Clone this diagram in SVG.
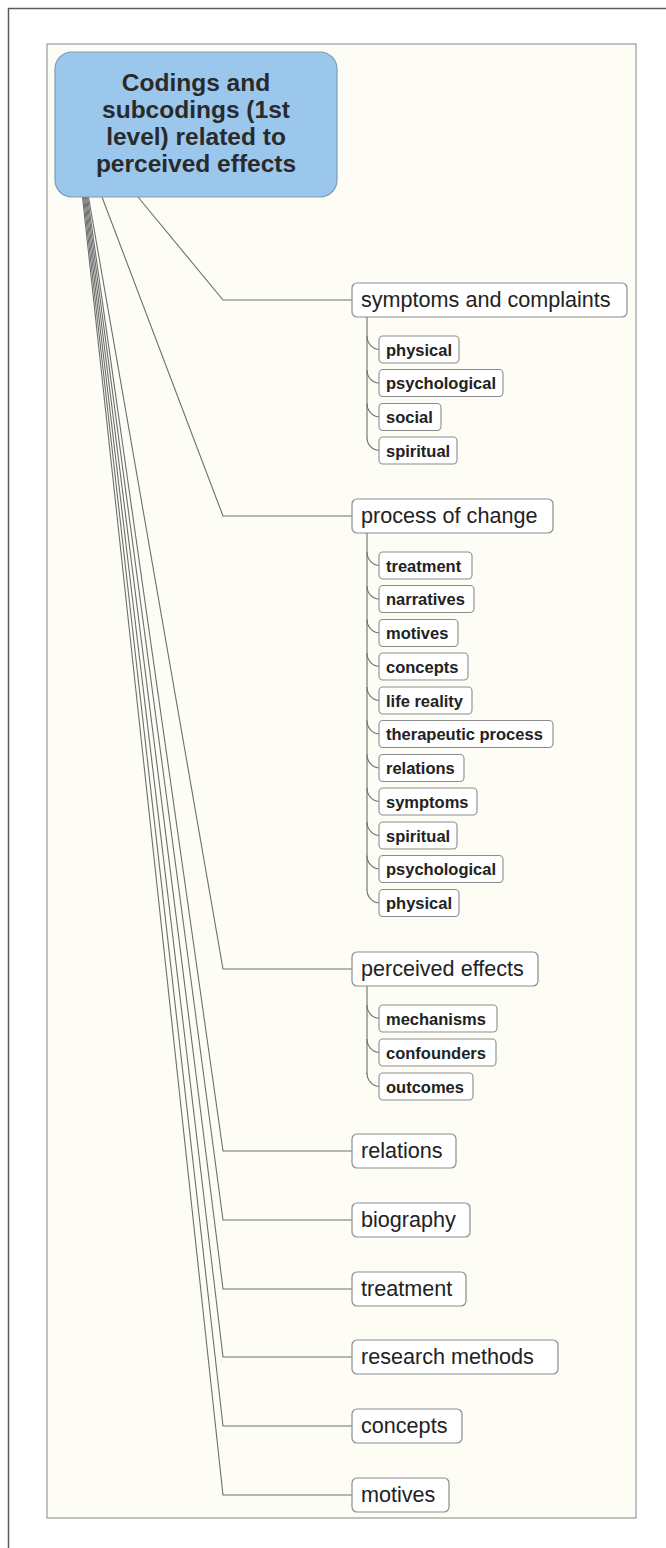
<svg xmlns="http://www.w3.org/2000/svg" width="666" height="1548" viewBox="0 0 666 1548">
<style>
.frame{fill:none;stroke:#5a5a5a;stroke-width:1.5}
.panel{fill:#fdfdf6;stroke:#9a9a9a;stroke-width:1.2}
.root rect{fill:#9bc7ec;stroke:#7f9cb6;stroke-width:1.2}
.root text{font-family:"Liberation Sans",Arial,sans-serif;font-weight:bold;font-size:24.5px;fill:#2a2a2a;text-anchor:middle}
.l1 rect{fill:#fff;stroke:#8c8c8c;stroke-width:1.2}
.l1 text{font-family:"Liberation Sans",Arial,sans-serif;font-size:21.6px;fill:#222}
.l2 rect{fill:#fff;stroke:#8c8c8c;stroke-width:1.1}
.l2 text{font-family:"Liberation Sans",Arial,sans-serif;font-weight:bold;font-size:16.5px;fill:#222}
.conn path{fill:none;stroke:#6e6e6e;stroke-width:1.1}
</style>
<rect x="0" y="0" width="666" height="1548" fill="#ffffff"/>
<path class="frame" d="M8.5,1548 V8.5 H666"/>
<rect class="panel" x="47" y="44" width="589" height="1474"/>

<g id="connectors" class="conn">
<path d="M138,197 L223,300 H352"/>
<path d="M102,197 L223,516 H352"/>
<path d="M88.5,197 L223,969 H352"/>
<path d="M87.5,197 L223,1151 H352"/>
<path d="M86.5,197 L223,1220 H352"/>
<path d="M85.5,197 L223,1289 H352"/>
<path d="M84.5,197 L223,1357 H352"/>
<path d="M83.5,197 L223,1426 H352"/>
<path d="M82.5,197 L223,1495 H352"/>
<path d="M367,317 V438"/>
<path d="M367,336 C367,343 372,349 379,349.5"/>
<path d="M367,370 C367,377 372,383 379,383"/>
<path d="M367,403.5 C367,410.5 372,416.5 379,417"/>
<path d="M367,437.5 C367,444.5 372,450 379,450.5"/>
<path d="M367,533 V890"/>
<path d="M367,552 C367,559 372,565 379,565.5"/>
<path d="M367,586 C367,593 372,599 379,599"/>
<path d="M367,619.5 C367,626.5 372,632.5 379,633"/>
<path d="M367,653 C367,660 372,666 379,666.5"/>
<path d="M367,687 C367,694 372,700 379,700.5"/>
<path d="M367,720.5 C367,727.5 372,733.5 379,734"/>
<path d="M367,754.5 C367,761.5 372,767.5 379,768"/>
<path d="M367,788 C367,795 372,801 379,801.5"/>
<path d="M367,822 C367,829 372,835 379,835.5"/>
<path d="M367,855.5 C367,862.5 372,868.5 379,869"/>
<path d="M367,889.5 C367,896.5 372,902.5 379,903"/>
<path d="M367,986 V1074"/>
<path d="M367,1005 C367,1012 372,1018 379,1018.5"/>
<path d="M367,1039 C367,1046 372,1052 379,1052.5"/>
<path d="M367,1073 C367,1080 372,1086 379,1086.5"/>
</g>

<g id="root" class="root">
<rect x="55" y="52" width="282" height="145" rx="17"/>
<text x="196" y="91">Codings and</text>
<text x="196" y="118">subcodings (1st</text>
<text x="196" y="145">level) related to</text>
<text x="196" y="172">perceived effects</text>
</g>

<g id="n-symptoms" class="l1"><rect x="352" y="283" width="275" height="34" rx="5"/><text x="361" y="307">symptoms and complaints</text></g>
<g id="n-s-physical" class="l2"><rect x="379" y="336" width="80" height="27" rx="4"/><text x="386" y="355.5">physical</text></g>
<g id="n-s-psychological" class="l2"><rect x="379" y="369.5" width="124" height="27" rx="4"/><text x="386" y="389">psychological</text></g>
<g id="n-s-social" class="l2"><rect x="379" y="403.5" width="62" height="27" rx="4"/><text x="386" y="423">social</text></g>
<g id="n-s-spiritual" class="l2"><rect x="379" y="437" width="78" height="27" rx="4"/><text x="386" y="456.5">spiritual</text></g>

<g id="n-process" class="l1"><rect x="352" y="499" width="201" height="34" rx="5"/><text x="361" y="523">process of change</text></g>
<g id="n-p-treatment" class="l2"><rect x="379" y="552" width="93" height="27" rx="4"/><text x="386" y="571.5">treatment</text></g>
<g id="n-p-narratives" class="l2"><rect x="379" y="585.5" width="95" height="27" rx="4"/><text x="386" y="605">narratives</text></g>
<g id="n-p-motives" class="l2"><rect x="379" y="619.5" width="79" height="27" rx="4"/><text x="386" y="639">motives</text></g>
<g id="n-p-concepts" class="l2"><rect x="379" y="653" width="89" height="27" rx="4"/><text x="386" y="672.5">concepts</text></g>
<g id="n-p-life" class="l2"><rect x="379" y="687" width="93" height="27" rx="4"/><text x="386" y="706.5">life reality</text></g>
<g id="n-p-therapeutic" class="l2"><rect x="379" y="720.5" width="174" height="27" rx="4"/><text x="386" y="740">therapeutic process</text></g>
<g id="n-p-relations" class="l2"><rect x="379" y="754.5" width="85" height="27" rx="4"/><text x="386" y="774">relations</text></g>
<g id="n-p-symptoms" class="l2"><rect x="379" y="788" width="98" height="27" rx="4"/><text x="386" y="807.5">symptoms</text></g>
<g id="n-p-spiritual" class="l2"><rect x="379" y="822" width="78" height="27" rx="4"/><text x="386" y="841.5">spiritual</text></g>
<g id="n-p-psychological" class="l2"><rect x="379" y="855.5" width="124" height="27" rx="4"/><text x="386" y="875">psychological</text></g>
<g id="n-p-physical" class="l2"><rect x="379" y="889.5" width="80" height="27" rx="4"/><text x="386" y="909">physical</text></g>

<g id="n-perceived" class="l1"><rect x="352" y="952" width="186" height="34" rx="5"/><text x="361" y="976">perceived effects</text></g>
<g id="n-e-mechanisms" class="l2"><rect x="379" y="1005" width="118" height="27" rx="4"/><text x="386" y="1024.5">mechanisms</text></g>
<g id="n-e-confounders" class="l2"><rect x="379" y="1039" width="117" height="27" rx="4"/><text x="386" y="1058.5">confounders</text></g>
<g id="n-e-outcomes" class="l2"><rect x="379" y="1073" width="94" height="27" rx="4"/><text x="386" y="1092.5">outcomes</text></g>

<g id="n-relations" class="l1"><rect x="352" y="1134" width="104" height="34" rx="5"/><text x="361" y="1158">relations</text></g>
<g id="n-biography" class="l1"><rect x="352" y="1203" width="118" height="34" rx="5"/><text x="361" y="1227">biography</text></g>
<g id="n-treatment" class="l1"><rect x="352" y="1272" width="114" height="34" rx="5"/><text x="361" y="1296">treatment</text></g>
<g id="n-research" class="l1"><rect x="352" y="1340" width="206" height="34" rx="5"/><text x="361" y="1364">research methods</text></g>
<g id="n-concepts" class="l1"><rect x="352" y="1409" width="110" height="34" rx="5"/><text x="361" y="1433">concepts</text></g>
<g id="n-motives" class="l1"><rect x="352" y="1478" width="97" height="34" rx="5"/><text x="361" y="1502">motives</text></g>
</svg>
